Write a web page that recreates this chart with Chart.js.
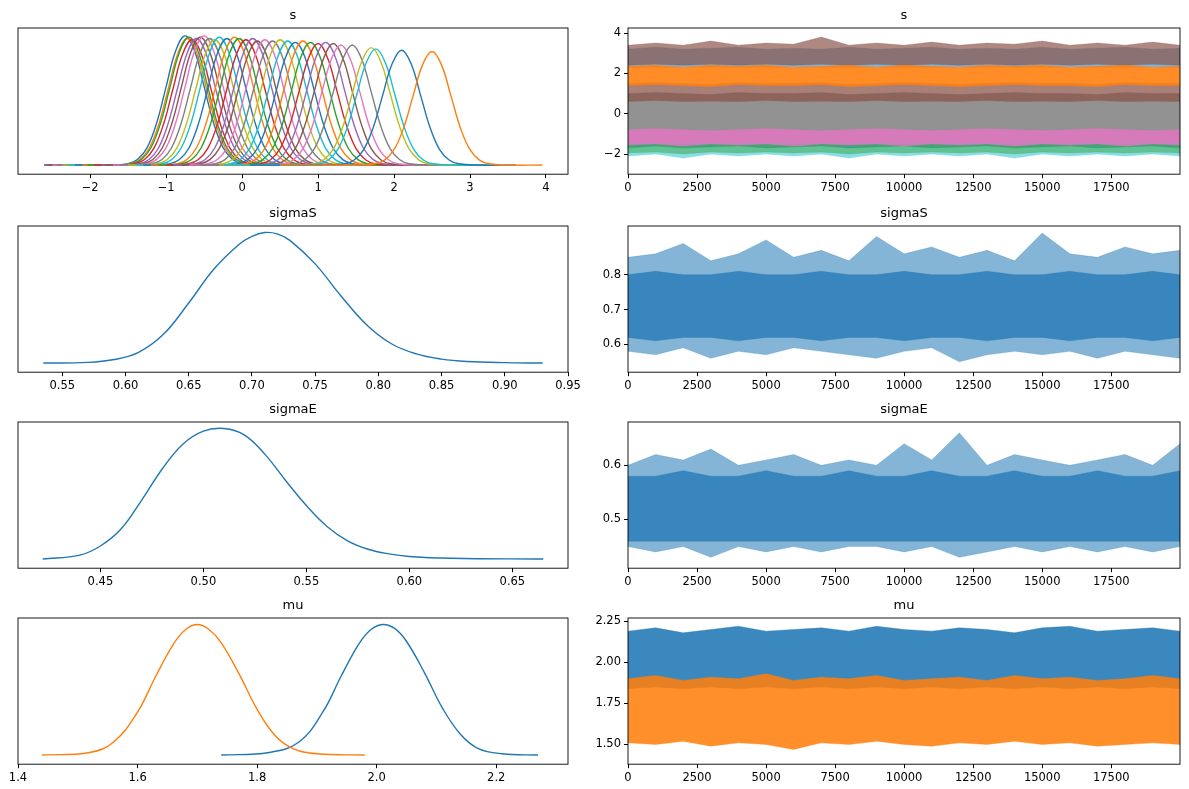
<!DOCTYPE html>
<html>
<head>
<meta charset="utf-8">
<script src="https://cdn.jsdelivr.net/npm/chart.js@4"></script>
<style>
  body { margin: 0; background: #fff; width: 1189px; height: 789px; position: relative; overflow: hidden; }
  canvas { position: absolute; }
</style>
</head>
<body>
<script>
// ---- data ----
const TAB10 = ["#1f77b4", "#ff7f0e", "#2ca02c", "#d62728", "#9467bd",
               "#8c564b", "#e377c2", "#7f7f7f", "#bcbd22", "#17becf"];

// s: one density per component, shared profile shape (in sd units) shifted to each centre
const sCenters = [-0.75, -0.72, -0.7, -0.66, -0.6, -0.55, -0.5, -0.43, -0.36, -0.3,
                  -0.2, -0.1, -0.04, 0.05, 0.14, 0.2, 0.3, 0.4, 0.5, 0.6,
                  0.7, 0.8, 0.9, 1.0, 1.1, 1.2, 1.3, 1.45, 1.7, 1.76, 2.1, 2.5];
const sPeaks = [0.99, 0.97, 0.98, 0.96, 0.97, 0.98, 0.99, 0.97, 0.96, 0.98,
                0.97, 0.98, 0.97, 0.96, 0.97, 0.95, 0.96, 0.95, 0.96, 0.95,
                0.94, 0.95, 0.94, 0.93, 0.94, 0.93, 0.92, 0.92, 0.9, 0.89, 0.88, 0.87];
const sSd = 0.25;
const sProfileX = [-8, -4, -3, -2.5, -2, -1.5, -1, -0.5, 0, 0.5, 1, 1.5, 2, 2.5, 3, 4, 6];
const sProfileY = [0, 0, 0.011, 0.044, 0.135, 0.325, 0.607, 0.882, 1, 0.882, 0.607, 0.325, 0.135, 0.044, 0.011, 0, 0];

const sigmaSx = [0.535, 0.57, 0.59, 0.61, 0.63, 0.65, 0.67, 0.69, 0.70, 0.71, 0.72, 0.73, 0.75, 0.77, 0.79, 0.81, 0.83, 0.85, 0.87, 0.90, 0.93];
const sigmaSy = [0, 0.005, 0.025, 0.08, 0.22, 0.46, 0.72, 0.91, 0.97, 1.0, 0.99, 0.94, 0.76, 0.52, 0.3, 0.15, 0.07, 0.03, 0.012, 0.003, 0];
const sigmaEx = [0.422, 0.44, 0.45, 0.46, 0.47, 0.48, 0.49, 0.50, 0.51, 0.52, 0.53, 0.54, 0.55, 0.56, 0.57, 0.58, 0.59, 0.60, 0.62, 0.665];
const sigmaEy = [0, 0.03, 0.1, 0.23, 0.45, 0.69, 0.88, 0.98, 1.0, 0.95, 0.8, 0.6, 0.41, 0.25, 0.14, 0.075, 0.04, 0.02, 0.006, 0];
const muOx = [1.44, 1.52, 1.56, 1.60, 1.63, 1.66, 1.68, 1.70, 1.72, 1.74, 1.77, 1.80, 1.83, 1.86, 1.90, 1.98];
const muOy = [0, 0.02, 0.1, 0.33, 0.6, 0.85, 0.96, 1.0, 0.96, 0.86, 0.62, 0.35, 0.15, 0.05, 0.01, 0];
const muBx = [1.74, 1.82, 1.87, 1.91, 1.94, 1.97, 1.99, 2.01, 2.03, 2.05, 2.08, 2.11, 2.14, 2.17, 2.21, 2.27];
const muBy = [0, 0.02, 0.1, 0.33, 0.6, 0.85, 0.96, 1.0, 0.97, 0.87, 0.63, 0.36, 0.16, 0.05, 0.01, 0];

// traces as min/max envelopes of the draws
const traceX = [0, 1000, 2000, 3000, 4000, 5000, 6000, 7000, 8000, 9000, 10000,
                11000, 12000, 13000, 14000, 15000, 16000, 17000, 18000, 19000, 19990];
const sigmaSHi = [0.85, 0.86, 0.89, 0.84, 0.86, 0.90, 0.85, 0.87, 0.84, 0.91, 0.86, 0.88, 0.85, 0.87, 0.84, 0.92, 0.86, 0.85, 0.88, 0.86, 0.87];
const sigmaSLo = [0.58, 0.57, 0.59, 0.56, 0.58, 0.57, 0.59, 0.58, 0.57, 0.56, 0.58, 0.59, 0.55, 0.57, 0.58, 0.57, 0.58, 0.56, 0.58, 0.57, 0.56];
const sigmaSCoreHi = [0.80, 0.81, 0.80, 0.80, 0.81, 0.80, 0.80, 0.81, 0.80, 0.80, 0.81, 0.80, 0.80, 0.81, 0.80, 0.80, 0.81, 0.80, 0.80, 0.81, 0.80];
const sigmaSCoreLo = [0.62, 0.61, 0.62, 0.62, 0.61, 0.62, 0.62, 0.61, 0.62, 0.62, 0.61, 0.62, 0.62, 0.61, 0.62, 0.62, 0.61, 0.62, 0.62, 0.61, 0.62];
const sigmaEHi = [0.60, 0.62, 0.61, 0.63, 0.60, 0.61, 0.62, 0.60, 0.61, 0.60, 0.64, 0.61, 0.66, 0.60, 0.62, 0.61, 0.60, 0.61, 0.62, 0.60, 0.64];
const sigmaELo = [0.45, 0.44, 0.45, 0.43, 0.45, 0.44, 0.45, 0.44, 0.45, 0.45, 0.44, 0.45, 0.43, 0.44, 0.45, 0.44, 0.45, 0.44, 0.45, 0.44, 0.45];
const sigmaECoreHi = [0.58, 0.58, 0.59, 0.58, 0.58, 0.59, 0.58, 0.58, 0.59, 0.58, 0.58, 0.59, 0.58, 0.58, 0.59, 0.58, 0.58, 0.59, 0.58, 0.58, 0.59];
const sigmaECoreLo = [0.46, 0.46, 0.46, 0.46, 0.46, 0.46, 0.46, 0.46, 0.46, 0.46, 0.46, 0.46, 0.46, 0.46, 0.46, 0.46, 0.46, 0.46, 0.46, 0.46, 0.46];
const muBHi = [2.19, 2.21, 2.18, 2.20, 2.22, 2.19, 2.20, 2.21, 2.19, 2.22, 2.20, 2.19, 2.21, 2.20, 2.18, 2.21, 2.22, 2.19, 2.20, 2.21, 2.19];
const muBLo = [1.84, 1.85, 1.84, 1.85, 1.84, 1.85, 1.84, 1.85, 1.84, 1.85, 1.84, 1.85, 1.84, 1.85, 1.84, 1.85, 1.84, 1.85, 1.84, 1.85, 1.84];
const muOHi = [1.90, 1.92, 1.89, 1.91, 1.90, 1.93, 1.89, 1.91, 1.90, 1.92, 1.89, 1.90, 1.91, 1.89, 1.92, 1.90, 1.91, 1.89, 1.90, 1.92, 1.90];
const muOLo = [1.51, 1.50, 1.52, 1.49, 1.51, 1.50, 1.47, 1.51, 1.50, 1.52, 1.50, 1.49, 1.51, 1.50, 1.52, 1.50, 1.51, 1.49, 1.50, 1.51, 1.50];

// s trace bands: [colour index, alpha, lo, hi]
const sBands = [
  [7, 0.85, [-1.7, -1.6, -1.7, -1.65, -1.6, -1.7, -1.65, -1.6, -1.7, -1.65, -1.6, -1.7, -1.65, -1.6, -1.7, -1.65, -1.6, -1.7, -1.65, -1.6, -1.7],
            [1.0, 1.05, 1.0, 0.95, 1.05, 1.0, 1.0, 1.05, 0.95, 1.0, 1.05, 1.0, 0.95, 1.0, 1.05, 1.0, 1.0, 0.95, 1.05, 1.0, 1.0]],
  [5, 0.75, [0.6, 0.65, 0.6, 0.62, 0.6, 0.65, 0.6, 0.62, 0.6, 0.65, 0.6, 0.62, 0.6, 0.65, 0.6, 0.62, 0.6, 0.65, 0.6, 0.62, 0.6],
            [1.5, 1.55, 1.5, 1.45, 1.55, 1.5, 1.5, 1.55, 1.45, 1.5, 1.55, 1.5, 1.45, 1.5, 1.55, 1.5, 1.5, 1.45, 1.55, 1.5, 1.5]],
  [9, 0.5, [-2.1, -2.0, -2.2, -2.0, -2.1, -2.0, -2.1, -2.0, -2.2, -2.0, -2.1, -2.0, -2.1, -2.0, -2.2, -2.0, -2.1, -2.0, -2.1, -2.0, -2.1],
           [-1.4, -1.4, -1.4, -1.4, -1.4, -1.4, -1.4, -1.4, -1.4, -1.4, -1.4, -1.4, -1.4, -1.4, -1.4, -1.4, -1.4, -1.4, -1.4, -1.4, -1.4]],
  [2, 0.45, [-1.95, -1.9, -2.0, -1.9, -1.95, -1.9, -1.95, -1.9, -2.0, -1.9, -1.95, -1.9, -1.95, -1.9, -2.0, -1.9, -1.95, -1.9, -1.95, -1.9, -1.95],
            [-1.5, -1.5, -1.5, -1.5, -1.5, -1.5, -1.5, -1.5, -1.5, -1.5, -1.5, -1.5, -1.5, -1.5, -1.5, -1.5, -1.5, -1.5, -1.5, -1.5, -1.5]],
  [6, 0.85, [-1.55, -1.5, -1.6, -1.5, -1.55, -1.5, -1.6, -1.5, -1.55, -1.5, -1.6, -1.5, -1.55, -1.5, -1.6, -1.5, -1.55, -1.5, -1.6, -1.5, -1.55],
            [-0.8, -0.75, -0.8, -0.85, -0.8, -0.75, -0.8, -0.85, -0.8, -0.75, -0.8, -0.85, -0.8, -0.75, -0.8, -0.85, -0.8, -0.75, -0.8, -0.85, -0.8]],
  [0, 0.55, [2.3, 2.3, 2.3, 2.3, 2.3, 2.3, 2.3, 2.3, 2.3, 2.3, 2.3, 2.3, 2.3, 2.3, 2.3, 2.3, 2.3, 2.3, 2.3, 2.3, 2.3],
            [3.2, 3.3, 3.2, 3.25, 3.3, 3.2, 3.25, 3.2, 3.3, 3.2, 3.25, 3.3, 3.2, 3.25, 3.2, 3.3, 3.2, 3.25, 3.3, 3.2, 3.25]],
  [5, 0.7, [2.4, 2.45, 2.4, 2.45, 2.4, 2.45, 2.4, 2.45, 2.4, 2.45, 2.4, 2.45, 2.4, 2.45, 2.4, 2.45, 2.4, 2.45, 2.4, 2.45, 2.4],
           [3.4, 3.5, 3.4, 3.6, 3.4, 3.5, 3.45, 3.8, 3.4, 3.5, 3.4, 3.55, 3.4, 3.5, 3.45, 3.6, 3.4, 3.5, 3.4, 3.55, 3.4]],
  [1, 0.9, [1.4, 1.45, 1.4, 1.35, 1.45, 1.4, 1.4, 1.45, 1.35, 1.4, 1.45, 1.4, 1.35, 1.4, 1.45, 1.4, 1.4, 1.35, 1.45, 1.4, 1.4],
           [2.35, 2.4, 2.3, 2.4, 2.35, 2.4, 2.3, 2.35, 2.4, 2.3, 2.4, 2.35, 2.3, 2.4, 2.35, 2.4, 2.3, 2.35, 2.4, 2.3, 2.35]],
];

// axes
const panels = [
  { title: "s",      kdeMin: -2.95, kdeMax: 4.29, kdeTicks: [-2, -1, 0, 1, 2, 3, 4],
    trMin: -3.0, trMax: 4.25, trTicks: [-2, 0, 2, 4] },
  { title: "sigmaS", kdeMin: 0.515, kdeMax: 0.95, kdeTicks: [0.55, 0.60, 0.65, 0.70, 0.75, 0.80, 0.85, 0.90, 0.95],
    trMin: 0.52, trMax: 0.94, trTicks: [0.6, 0.7, 0.8] },
  { title: "sigmaE", kdeMin: 0.41, kdeMax: 0.677, kdeTicks: [0.45, 0.50, 0.55, 0.60, 0.65],
    trMin: 0.41, trMax: 0.68, trTicks: [0.5, 0.6] },
  { title: "mu",     kdeMin: 1.4, kdeMax: 2.32, kdeTicks: [1.4, 1.6, 1.8, 2.0, 2.2],
    trMin: 1.38, trMax: 2.27, trTicks: [1.50, 1.75, 2.00, 2.25] },
];
const traceTicks = [0, 2500, 5000, 7500, 10000, 12500, 15000, 17500];

// ---- helpers ----
const FONT = "'DejaVu Sans', sans-serif";
Chart.defaults.font.family = FONT;
Chart.defaults.color = "#000";
Chart.defaults.animation = false;

function rgba(hex, a) {
  const n = parseInt(hex.slice(1), 16);
  return `rgba(${n >> 16},${(n >> 8) & 255},${n & 255},${a})`;
}
const pts = (xs, ys) => xs.map((x, i) => ({ x: x, y: ys[i] }));
const minus = (s) => s.replace("-", "\u2212");
// later datasets drawn on top, as in matplotlib
const stack = (list) => { list.forEach((d, k) => { d.order = -k; }); return list; };

const framePlugin = {
  id: "frame",
  afterDraw(chart) {
    const { ctx, chartArea: a } = chart;
    ctx.save();
    ctx.strokeStyle = "#000";
    ctx.lineWidth = 0.9;
    ctx.strokeRect(a.left, a.top, a.right - a.left, a.bottom - a.top);
    ctx.fillStyle = "#000";
    ctx.font = "13px " + FONT;
    ctx.textAlign = "center";
    ctx.textBaseline = "bottom";
    ctx.fillText(chart.options.plugins.frameTitle, (a.left + a.right) / 2, a.top - 6);
    ctx.restore();
  },
};

function axis(min, max, ticks, show, fmt) {
  return {
    type: "linear", min: min, max: max, display: show,
    border: { display: false },
    grid: { drawOnChartArea: false, drawTicks: true, tickLength: 4, color: "#000" },
    ticks: { font: { size: 11.5 }, color: "#000", padding: 3, callback: fmt },
    afterBuildTicks: (ax) => { ax.ticks = ticks.map((v) => ({ value: v })); },
  };
}

function makeCanvas(left, top, w, h) {
  const c = document.createElement("canvas");
  c.style.left = left + "px";
  c.style.top = top + "px";
  c.width = w; c.height = h;
  c.style.width = w + "px"; c.style.height = h + "px";
  document.body.appendChild(c);
  return c;
}

const rowTops = [2, 200, 396, 592];
const ROW_H = 196;

function kdeDatasets(i) {
  if (i === 0) {
    return sCenters.map((c, k) => ({
      data: sProfileX.map((o, j) => ({ x: Math.min(Math.max(c + o * sSd, -2.6), 3.95), y: sProfileY[j] * sPeaks[k] })),
      borderColor: TAB10[k % 10], borderWidth: 1.4,
    }));
  }
  if (i === 1) return [{ data: pts(sigmaSx, sigmaSy), borderColor: TAB10[0], borderWidth: 1.4 }];
  if (i === 2) return [{ data: pts(sigmaEx, sigmaEy), borderColor: TAB10[0], borderWidth: 1.4 }];
  return [
    { data: pts(muBx, muBy), borderColor: TAB10[0], borderWidth: 1.4 },
    { data: pts(muOx, muOy), borderColor: TAB10[1], borderWidth: 1.4 },
  ];
}

function band(col, alpha, lo, hi) {
  return [
    { data: pts(traceX, lo), borderColor: rgba(col, alpha * 0.5), borderWidth: 0.8, fill: false },
    { data: pts(traceX, hi), borderColor: rgba(col, alpha * 0.5), borderWidth: 0.8,
      fill: "-1", backgroundColor: rgba(col, alpha) },
  ];
}

function traceDatasets(i) {
  if (i === 0) return sBands.flatMap((b) => band(TAB10[b[0]], b[1], b[2], b[3]));
  if (i === 1) return [...band(TAB10[0], 0.55, sigmaSLo, sigmaSHi), ...band(TAB10[0], 0.75, sigmaSCoreLo, sigmaSCoreHi)];
  if (i === 2) return [...band(TAB10[0], 0.55, sigmaELo, sigmaEHi), ...band(TAB10[0], 0.75, sigmaECoreLo, sigmaECoreHi)];
  return [...band(TAB10[0], 0.88, muBLo, muBHi), ...band(TAB10[1], 0.88, muOLo, muOHi)];
}

panels.forEach((p, i) => {
  const kdeFmt = (v) => minus(i === 0 ? String(v) : v.toFixed(i === 3 ? 1 : 2));
  new Chart(makeCanvas(0, rowTops[i], 600, ROW_H), {
    type: "line",
    data: { datasets: stack(kdeDatasets(i)) },
    options: {
      responsive: false,
      layout: { padding: { left: 18, right: 32, top: 26, bottom: 0 } },
      elements: { point: { radius: 0 }, line: { tension: 0.4 } },
      plugins: { legend: { display: false }, tooltip: { enabled: false }, frameTitle: p.title },
      scales: {
        x: axis(p.kdeMin, p.kdeMax, p.kdeTicks, true, kdeFmt),
        y: axis(-0.07, 1.05, [], false),
      },
    },
    plugins: [framePlugin],
  });

  const trFmt = (v) => minus(i === 0 ? String(v) : i === 3 ? v.toFixed(2) : v.toFixed(1));
  const yAx = axis(p.trMin, p.trMax, p.trTicks, true, trFmt);
  yAx.afterFit = (ax) => { ax.width = 40; };
  new Chart(makeCanvas(588, rowTops[i], 601, ROW_H), {
    type: "line",
    data: { datasets: stack(traceDatasets(i)) },
    options: {
      responsive: false,
      layout: { padding: { left: 0, right: 9, top: 26, bottom: 0 } },
      elements: { point: { radius: 0 }, line: { tension: 0 } },
      plugins: { legend: { display: false }, tooltip: { enabled: false }, filler: { propagate: false }, frameTitle: p.title },
      scales: {
        x: axis(0, 19990, traceTicks, true, (v) => String(v)),
        y: yAx,
      },
    },
    plugins: [framePlugin],
  });
});
</script>
</body>
</html>
